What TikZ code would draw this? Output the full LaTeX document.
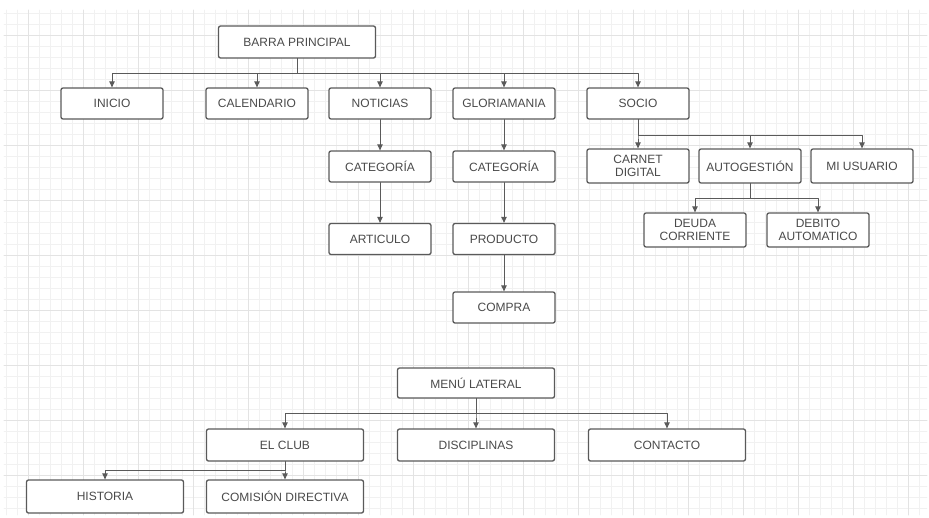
\documentclass[tikz,border=0pt]{standalone}
\usepackage{fontspec}
\setmainfont{Liberation Sans}
\usetikzlibrary{arrows.meta}

\definecolor{boxgray}{HTML}{5A5A5A}
\definecolor{textgray}{HTML}{4A4A4A}
\definecolor{gridminor}{HTML}{F1F1F1}
\definecolor{gridmajor}{HTML}{E3E3E3}

\begin{document}
\begin{tikzpicture}[x=1pt, y=-1pt, line cap=round, line join=round,
    box/.style={draw=boxgray, line width=1.3pt, rounded corners=2pt, fill=white,
      text=textgray, font=\fontsize{12}{13.5}\selectfont, align=center,
      minimum width=102pt, minimum height=31pt, inner sep=1pt},
    widebox/.style={box, minimum width=157pt},
    tallbox/.style={box, minimum height=34pt},
    link/.style={draw=boxgray, line width=0.9pt, -{Triangle[width=5.5pt,length=6pt]}}]
  \useasboundingbox (0,0) rectangle (929,517);

  % grid paper
  \foreach \gx in {6,17,...,925} \draw[gridminor, line width=0.6pt] (\gx,10) -- (\gx,515);
  \foreach \gy in {13,24,...,515} \draw[gridminor, line width=0.6pt] (4,\gy) -- (927,\gy);
  \foreach \gx in {28,83,...,925} \draw[gridmajor, line width=0.8pt] (\gx,10) -- (\gx,515);
  \foreach \gy in {35,90,...,515} \draw[gridmajor, line width=0.8pt] (4,\gy) -- (927,\gy);

  % barra principal
  \node[widebox, minimum height=32pt] (barra) at (297,42) {BARRA PRINCIPAL};
  \node[box] (inicio) at (112,103.5) {INICIO};
  \node[box] (calendario) at (257,103.5) {CALENDARIO};
  \node[box] (noticias) at (380,103.5) {NOTICIAS};
  \node[box] (gloria) at (504,103.5) {GLORIAMANIA};
  \node[box] (socio) at (638,103.5) {SOCIO};

  \node[box] (catnot) at (380,166.5) {CATEGORÍA};
  \node[box] (articulo) at (380,239) {ARTICULO};
  \node[box] (catglo) at (504,166.5) {CATEGORÍA};
  \node[box] (producto) at (504,239) {PRODUCTO};
  \node[box] (compra) at (504,307.5) {COMPRA};

  \node[tallbox] (carnet) at (638,166) {CARNET\\DIGITAL};
  \node[tallbox] (autog) at (750,166) {AUTOGESTIÓN};
  \node[tallbox] (miusuario) at (862,166) {MI USUARIO};
  \node[tallbox] (deuda) at (695,230) {DEUDA\\CORRIENTE};
  \node[tallbox] (debito) at (818,230) {DEBITO\\AUTOMATICO};

  \foreach \n in {inicio,calendario,noticias,gloria,socio}
    \draw[link] (barra.south) -- ++(0,15) -| (\n.north);
  \draw[link] (noticias) -- (catnot);
  \draw[link] (catnot) -- (articulo);
  \draw[link] (gloria) -- (catglo);
  \draw[link] (catglo) -- (producto);
  \draw[link] (producto) -- (compra);
  \foreach \n in {carnet,autog,miusuario}
    \draw[link] (socio.south) -- ++(0,16) -| (\n.north);
  \foreach \n in {deuda,debito}
    \draw[link] (autog.south) -- ++(0,15) -| (\n.north);

  % menu lateral
  \node[widebox, minimum height=30pt] (menu) at (476,383) {MENÚ LATERAL};
  \node[widebox, minimum height=32pt] (elclub) at (285,445) {EL CLUB};
  \node[widebox, minimum height=32pt] (disciplinas) at (476,445) {DISCIPLINAS};
  \node[widebox, minimum height=32pt] (contacto) at (667,445) {CONTACTO};
  \node[widebox, minimum height=33pt] (historia) at (105,496.5) {HISTORIA};
  \node[widebox, minimum height=33pt] (comision) at (285,496.5) {COMISIÓN DIRECTIVA};

  \foreach \n in {elclub,disciplinas,contacto}
    \draw[link] (menu.south) -- ++(0,15) -| (\n.north);
  \foreach \n in {historia,comision}
    \draw[link] (elclub.south) -- ++(0,9) -| (\n.north);
\end{tikzpicture}
\end{document}
